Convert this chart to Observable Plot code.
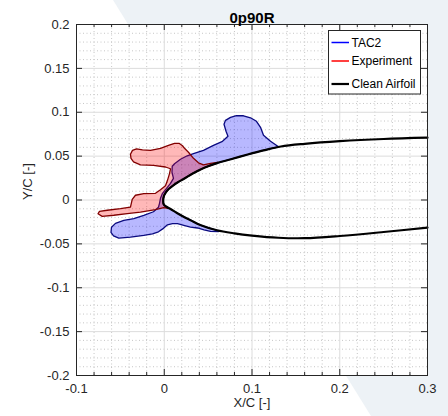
<!DOCTYPE html>
<html><head><meta charset="utf-8">
<script src="https://cdn.jsdelivr.net/npm/d3@7"></script>
<script src="https://cdn.jsdelivr.net/npm/@observablehq/plot@0.6"></script>
<style>
body{margin:0;background:#fff;font-family:"Liberation Sans",Arial,Helvetica,sans-serif;}
#wrap{position:relative;width:448px;height:416px;overflow:hidden;}
#bg,#chart,#legend{position:absolute;left:0;top:0;}
</style></head><body>
<div id="wrap">
<svg id="bg" width="448" height="416"><polygon points="113,0 448,0 448,416 371,416" fill="#edf2f6"/></svg>
<div id="chart"></div>
<svg id="legend" width="448" height="416" style="pointer-events:none">
  <rect x="328.5" y="30.5" width="92" height="63.5" fill="#fff" stroke="#262626" stroke-width="1"/>
  <line x1="331.5" x2="349" y1="42.5" y2="42.5" stroke="#0000ff" stroke-width="1.5"/>
  <line x1="331.5" x2="349" y1="61" y2="61" stroke="#ff0000" stroke-width="1.5"/>
  <line x1="331.5" x2="349" y1="84" y2="84" stroke="#000" stroke-width="2.2"/>
  <g font-family="Liberation Sans, Arial, sans-serif" font-size="12" fill="#000" dominant-baseline="central">
    <text x="351.5" y="42.5">TAC2</text>
    <text x="351.5" y="61">Experiment</text>
    <text x="351.5" y="84">Clean Airfoil</text>
  </g>
</svg>
</div>
<script>
// ---- data (X/C, Y/C) ----
const title = "0p90R";
const xLabel = "X/C [-]";
const yLabel = "Y/C [-]";
const xTicks = [-0.1, 0, 0.1, 0.2, 0.3];
const yTicks = [-0.2, -0.15, -0.1, -0.05, 0, 0.05, 0.1, 0.15, 0.2];

// clean airfoil, upper surface from leading edge aft
const afUpperX = [-0.0012, -0.0010, 0.0000, 0.002, 0.005, 0.010, 0.016, 0.023, 0.032, 0.045, 0.060, 0.075, 0.095, 0.113, 0.133, 0.160, 0.200, 0.250, 0.300];
const afUpperY = [-0.0020, 0.0020, 0.0055, 0.009, 0.0125, 0.0165, 0.0205, 0.0245, 0.0300, 0.0365, 0.0420, 0.0462, 0.0518, 0.0565, 0.0610, 0.0640, 0.0670, 0.0695, 0.0710];
// lower surface from leading edge aft
const afLowerX = [-0.0008, 0.0005, 0.004, 0.008, 0.014, 0.022, 0.030, 0.041, 0.060, 0.080, 0.100, 0.130, 0.160, 0.200, 0.250, 0.300];
const afLowerY = [-0.0045, -0.0062, -0.0085, -0.0108, -0.0145, -0.0190, -0.0230, -0.0285, -0.0345, -0.0380, -0.0405, -0.0430, -0.0435, -0.0410, -0.0365, -0.0315];

// TAC2 ice outline (from upper attachment, around the front, to lower attachment)
const tacX = [0.1302, 0.1211, 0.1131, 0.1097, 0.1051, 0.0983, 0.0903, 0.0823, 0.0755, 0.0698, 0.0681, 0.0704, 0.0726, 0.0664, 0.0561, 0.0447, 0.0333, 0.0262, 0.0185, 0.0117, 0.0091, 0.0088, 0.0105, 0.0071, 0.0026, -0.0020, -0.0043, -0.0054, -0.0066, -0.0123, -0.0233, -0.0347, -0.0461, -0.0556, -0.0601, -0.0607, -0.0578, -0.0518, -0.0385, -0.0233, -0.0134, -0.0066, -0.0009, 0.0037, 0.0094, 0.0151, 0.0223, 0.0299, 0.0379, 0.0453, 0.0527, 0.0618];
const tacY = [0.0606, 0.0669, 0.0737, 0.0828, 0.0897, 0.0937, 0.0960, 0.0962, 0.0942, 0.0908, 0.0863, 0.0783, 0.0726, 0.0669, 0.0623, 0.0566, 0.0529, 0.0504, 0.0464, 0.0413, 0.0384, 0.0316, 0.0247, 0.0190, 0.0133, 0.0076, 0.0019, -0.0038, -0.0083, -0.0134, -0.0174, -0.0212, -0.0231, -0.0266, -0.0311, -0.0368, -0.0408, -0.0434, -0.0422, -0.0402, -0.0385, -0.0362, -0.0323, -0.0283, -0.0269, -0.0269, -0.0288, -0.0308, -0.0319, -0.0340, -0.0357, -0.0360];

// Experiment ice outline (from upper attachment, around the front, to lower attachment)
const expX = [0.0607, 0.0527, 0.0447, 0.0390, 0.0333, 0.0276, 0.0231, 0.0208, 0.0168, 0.0117, 0.0048, -0.0043, -0.0157, -0.0248, -0.0316, -0.0362, -0.0385, -0.0379, -0.0350, -0.0271, -0.0123, 0.0014, 0.0071, 0.0060, 0.0037, 0.0014, -0.0043, -0.0100, -0.0233, -0.0328, -0.0365, -0.0385, -0.0499, -0.0650, -0.0738, -0.0755, -0.0707, -0.0575, -0.0422, -0.0271, -0.0100, -0.0005, 0.0040];
const expY = [0.0430, 0.0418, 0.0401, 0.0424, 0.0475, 0.0544, 0.0589, 0.0618, 0.0646, 0.0646, 0.0623, 0.0589, 0.0566, 0.0572, 0.0583, 0.0566, 0.0521, 0.0475, 0.0435, 0.0401, 0.0395, 0.0376, 0.0356, 0.0301, 0.0224, 0.0162, 0.0116, 0.0076, 0.0073, 0.0054, 0.0008, -0.0080, -0.0098, -0.0117, -0.0129, -0.0157, -0.0186, -0.0174, -0.0155, -0.0137, -0.0109, -0.0087, -0.0095];

// ---- build tables ----
const upper = afUpperX.map((x, i) => ({x, y: afUpperY[i]}));
const lower = afLowerX.map((x, i) => ({x, y: afLowerY[i]}));
const airfoil = [...upper.slice().reverse(), ...lower];

function icePolygon(xs, ys) {
  const pts = xs.map((x, i) => ({x, y: ys[i]}));
  const xUp = xs[0], xLo = xs[xs.length - 1];
  const back = [
    ...lower.filter(p => p.x < xLo).reverse(),
    ...upper.filter(p => p.x < xUp)
  ];
  return [...pts, ...back];
}
const tac = icePolygon(tacX, tacY);
const exp = icePolygon(expX, expY);

const xMinor = d3.range(-0.1, 0.3001, 0.02).filter(v => Math.abs(v * 10 - Math.round(v * 10)) > 1e-6);
const yMinor = d3.range(-0.2, 0.2001, 0.01).filter(v => Math.abs(v * 20 - Math.round(v * 20)) > 1e-6);

const fmt = d => String(+d.toFixed(2));

const W = 448, H = 416, mL = 76, mR = 21, mT = 24, mB = 41;
const iw = W - mL - mR, ih = H - mT - mB;
const axisColor = "#262626";

const chart = Plot.plot({
  width: W, height: H,
  marginLeft: mL, marginRight: mR, marginTop: mT, marginBottom: mB,
  x: {domain: [-0.1, 0.3], axis: null},
  y: {domain: [-0.2, 0.2], axis: null},
  style: {background: "transparent", fontFamily: "Liberation Sans, Arial, sans-serif", fontSize: "13px", overflow: "visible"},
  marks: [
    Plot.frame({fill: "white", stroke: null}),
    Plot.ruleX(xMinor, {stroke: "#b8b8b8", strokeWidth: 0.8, strokeDasharray: "1,2.5"}),
    Plot.ruleY(yMinor, {stroke: "#b8b8b8", strokeWidth: 0.8, strokeDasharray: "1,2.5"}),
    Plot.ruleX(xTicks, {stroke: "#dcdcdc", strokeWidth: 1}),
    Plot.ruleY(yTicks, {stroke: "#dcdcdc", strokeWidth: 1}),
    Plot.line(tac, {x: "x", y: "y", curve: "linear-closed", fill: "blue", fillOpacity: 0.28, stroke: "#0a0a80", strokeWidth: 1.3}),
    Plot.line(exp, {x: "x", y: "y", curve: "linear-closed", fill: "red", fillOpacity: 0.28, stroke: "#820000", strokeWidth: 1.3}),
    Plot.line(airfoil, {x: "x", y: "y", stroke: "black", strokeWidth: 2.2, curve: "catmull-rom"}),
    // inward ticks, all four sides
    Plot.tickX(xTicks, {x: d => d, insetTop: ih - 6, stroke: axisColor}),
    Plot.tickX(xTicks, {x: d => d, insetBottom: ih - 6, stroke: axisColor}),
    Plot.tickX(xMinor, {x: d => d, insetTop: ih - 3, stroke: axisColor}),
    Plot.tickX(xMinor, {x: d => d, insetBottom: ih - 3, stroke: axisColor}),
    Plot.tickY(yTicks, {y: d => d, insetRight: iw - 6, stroke: axisColor}),
    Plot.tickY(yTicks, {y: d => d, insetLeft: iw - 6, stroke: axisColor}),
    Plot.frame({stroke: axisColor, strokeWidth: 1}),
    // tick labels
    Plot.text(xTicks, {x: d => d, text: fmt, frameAnchor: "bottom", dy: 17, fill: axisColor, fontSize: 13}),
    Plot.text(yTicks, {y: d => d, text: fmt, frameAnchor: "left", dx: -7, textAnchor: "end", fill: axisColor, fontSize: 13}),
    // labels and title
    Plot.text([xLabel], {text: d => d, frameAnchor: "bottom", dy: 31, fill: axisColor, fontSize: 13}),
    Plot.text([yLabel], {text: d => d, frameAnchor: "left", dx: -49, rotate: -90, fill: axisColor, fontSize: 13}),
    Plot.text([title], {text: d => d, frameAnchor: "top", dy: -12, fontWeight: "bold", fontSize: 15, fill: "black"})
  ]
});
document.getElementById("chart").appendChild(chart);
</script>
</body></html>
